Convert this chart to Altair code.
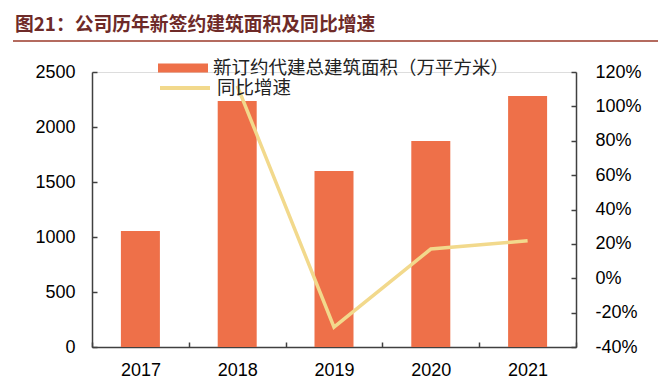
import altair as alt
import pandas as pd

years = ["2017", "2018", "2019", "2020", "2021"]
area = [1055, 2236, 1600, 1873, 2282]
growth = [None, 1.12, -0.284, 0.17, 0.218]
bar_label = "新订约代建总建筑面积（万平方米）"
line_label = "同比增速"
title_text = "图21：公司历年新签约建筑面积及同比增速"

df = pd.DataFrame({"year": years, "area": area, "growth": growth,
                   "s1": [bar_label] * 5, "s2": [line_label] * 5})

BAR = "#EE7049"
LINE = "#F2D98C"
AX = "#404040"
FONT = "Liberation Sans"
CJK = "Noto Sans CJK SC"

x = alt.X("year:N", scale=alt.Scale(paddingInner=0, paddingOuter=0),
          axis=alt.Axis(title=None, labelAngle=0, tickBand="extent",
                        labelFont=FONT, labelFontSize=18, labelColor="#000",
                        domainColor=AX, domainWidth=1.5, tickColor=AX,
                        tickWidth=1.5, tickSize={"expr": "-5"}, labelPadding=19))

bars = alt.Chart(df).mark_bar(size=39).encode(
    x=x,
    y=alt.Y("area:Q", scale=alt.Scale(domain=[0, 2500]),
            axis=alt.Axis(title=None, values=[0, 500, 1000, 1500, 2000, 2500],
                          format="d", grid=False, labelFont=FONT, labelFontSize=18,
                          labelColor="#000", domainColor=AX, domainWidth=1.5,
                          tickColor=AX, tickWidth=1.5, tickSize={"expr": "-5"},
                          labelPadding=22)),
    fill=alt.Fill("s1:N", scale=alt.Scale(domain=[bar_label], range=[BAR]),
                  legend=alt.Legend(title=None, orient="none", legendX=66, legendY=-29,
                                    symbolType="M-1,-0.18L1,-0.18L1,0.18L-1,0.18Z",
                                    symbolSize=2500, symbolStrokeWidth=0,
                                    labelFont=CJK, labelFontSize=18.5, labelColor="#222",
                                    labelOffset=5, padding=0, labelLimit=600)),
)

line = alt.Chart(df).transform_filter("datum.growth != null").mark_line(
    strokeWidth=3.5).encode(
    x=x,
    y=alt.Y("growth:Q", scale=alt.Scale(domain=[-0.4, 1.2]),
            axis=alt.Axis(title=None, orient="right",
                          labelExpr="replace(format(datum.value, '.0%'), '\u2212', '-')",
                          values=[-0.4, -0.2, 0, 0.2, 0.4, 0.6, 0.8, 1.0, 1.2],
                          grid=False, labelFont=FONT, labelFontSize=18,
                          labelColor="#000", domainColor=AX, domainWidth=1.5,
                          tickColor=AX, tickWidth=1.5, tickSize={"expr": "-5"},
                          labelPadding=24)),
    stroke=alt.Stroke("s2:N", scale=alt.Scale(domain=[line_label], range=[LINE]),
                      legend=alt.Legend(title=None, orient="none", legendX=66, legendY=-11,
                                        symbolType="M-1,0L1,0", symbolSize=2500,
                                        symbolStrokeWidth=4,
                                        labelFont=CJK, labelFontSize=18.5, labelColor="#222",
                                        labelOffset=5, padding=0, labelLimit=600)),
)

rule_df = pd.DataFrame({"k": [1]})
underline = alt.Chart(rule_df).mark_rule(color="#9B3A2A", strokeWidth=1.5).encode(
    x=alt.value(-79), x2=alt.value(580), y=alt.value(-31))

chart = alt.layer(bars, line, underline).resolve_scale(
    y="independent", fill="independent", stroke="independent"
).properties(
    width=484, height=275,
    autosize=alt.AutoSizeParams(type="none"),
    padding={"left": 84, "top": 64, "right": 82, "bottom": 34},
    title=alt.TitleParams(text=title_text, anchor="start", frame="group",
                          dx=-77, fontSize=18.8, fontWeight="bold", color="#6E2A28",
                          font=CJK, offset=5),
).configure_view(stroke=None).configure(background="white")

chart.save("out.html", embed_options={"renderer": "svg", "actions": False})
